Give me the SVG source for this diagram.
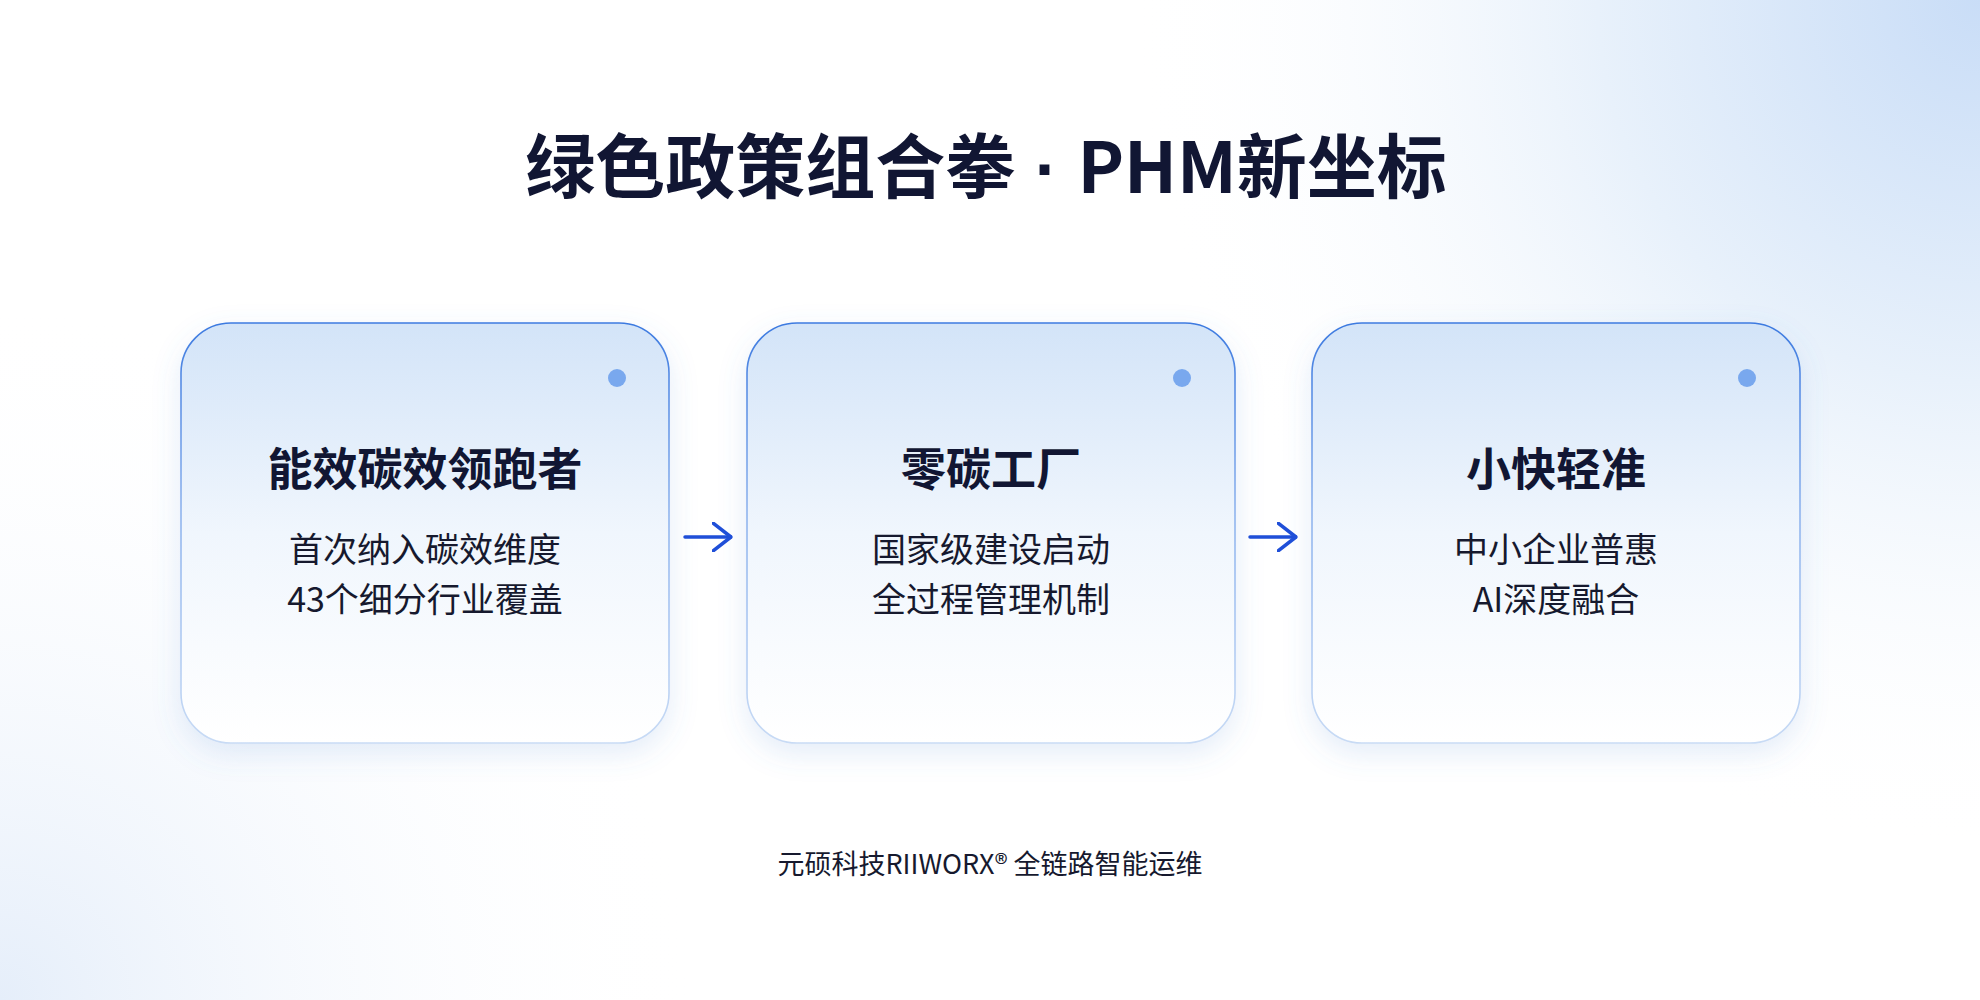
<svg xmlns="http://www.w3.org/2000/svg" width="1980" height="1000" viewBox="0 0 1980 1000">
<defs>
<radialGradient id="bgTR" cx="1980" cy="0" r="850" gradientUnits="userSpaceOnUse">
<stop offset="0" stop-color="#c9ddf7"/>
<stop offset="0.45" stop-color="#e8f1fb"/>
<stop offset="1" stop-color="#ffffff" stop-opacity="0"/>
</radialGradient>
<radialGradient id="bgBL" cx="0" cy="1000" r="700" gradientUnits="userSpaceOnUse">
<stop offset="0" stop-color="#e5eefa"/>
<stop offset="1" stop-color="#ffffff" stop-opacity="0"/>
</radialGradient>
<linearGradient id="cardFill" x1="0" y1="0" x2="0" y2="1">
<stop offset="0" stop-color="#d3e4f8"/>
<stop offset="0.5" stop-color="#f0f6fd"/>
<stop offset="1" stop-color="#ffffff"/>
</linearGradient>
<linearGradient id="cardStroke" x1="0" y1="0" x2="0" y2="1">
<stop offset="0" stop-color="#3d7ae0"/>
<stop offset="0.45" stop-color="#8fb4ee"/>
<stop offset="1" stop-color="#c8dbf5"/>
</linearGradient>
<filter id="shadow" x="-20%" y="-20%" width="140%" height="140%">
<feDropShadow dx="0" dy="10" stdDeviation="14" flood-color="#5b8fd6" flood-opacity="0.16"/>
</filter>
<marker id="arrow" viewBox="0 0 20 30" refX="19" refY="15" markerWidth="20" markerHeight="30" markerUnits="userSpaceOnUse" orient="auto">
<path d="M1,1 L19,15 L1,29" fill="none" stroke="#1f4fd8" stroke-width="3.5" stroke-linecap="round" stroke-linejoin="round"/>
</marker>
</defs>
<style>
.card{fill:url(#cardFill);stroke:url(#cardStroke);stroke-width:1.6;filter:url(#shadow)}
.dot{fill:#79a8ee}
.h{font-family:"Noto Sans CJK SC","Noto Sans",sans-serif;font-weight:700;fill:#111633;text-anchor:middle}
.t{font-family:"Noto Sans CJK SC","Noto Sans",sans-serif;font-weight:400;fill:#16192e;text-anchor:middle}
.conn{stroke:#1f4fd8;stroke-width:3.5;stroke-linecap:round;fill:none}
</style>
<rect width="1980" height="1000" fill="#ffffff"/>
<rect width="1980" height="1000" fill="url(#bgTR)"/>
<rect width="1980" height="1000" fill="url(#bgBL)"/>

<g id="title">
<text class="h" x="986" y="193" font-size="70">绿色政策组合拳<tspan font-family="Liberation Sans, sans-serif"> · </tspan>PHM新坐标</text>
</g>

<g id="node-1">
<rect class="card" x="181" y="323" width="488" height="420" rx="50"/>
<circle class="dot" cx="617" cy="378" r="9"/>
<text class="h" x="425" y="486" font-size="45">能效碳效领跑者</text>
<text class="t" x="425" y="562" font-size="34">首次纳入碳效维度</text>
<text class="t" x="425" y="612" font-size="34">43个细分行业覆盖</text>
</g>

<g id="node-2">
<rect class="card" x="747" y="323" width="488" height="420" rx="50"/>
<circle class="dot" cx="1182" cy="378" r="9"/>
<text class="h" x="991" y="486" font-size="45">零碳工厂</text>
<text class="t" x="991" y="562" font-size="34">国家级建设启动</text>
<text class="t" x="991" y="612" font-size="34">全过程管理机制</text>
</g>

<g id="node-3">
<rect class="card" x="1312" y="323" width="488" height="420" rx="50"/>
<circle class="dot" cx="1747" cy="378" r="9"/>
<text class="h" x="1556" y="486" font-size="45">小快轻准</text>
<text class="t" x="1556" y="562" font-size="34">中小企业普惠</text>
<text class="t" x="1556" y="612" font-size="34">AI深度融合</text>
</g>

<g id="connectors">
<line class="conn" x1="685" y1="537" x2="731" y2="537" marker-end="url(#arrow)"/>
<line class="conn" x1="1250" y1="537" x2="1296" y2="537" marker-end="url(#arrow)"/>
</g>

<g id="footer">
<text class="t" x="990" y="874" font-size="27">元硕科技RIIWORX® 全链路智能运维</text>
</g>
</svg>
